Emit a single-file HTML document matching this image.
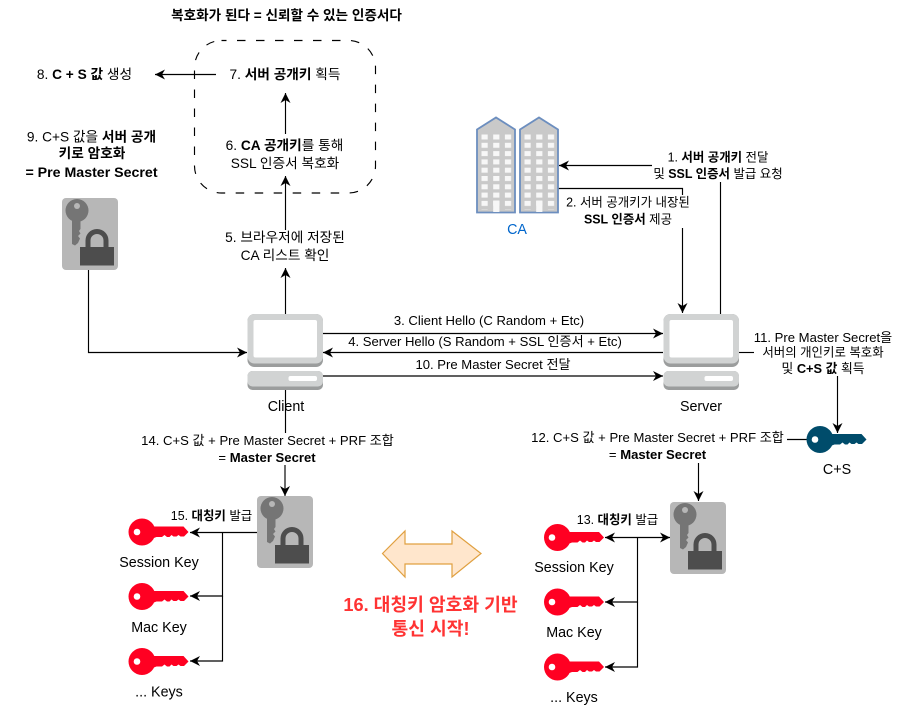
<!DOCTYPE html>
<html><head><meta charset="utf-8"><style>
html,body{margin:0;padding:0;background:#fff}
svg{display:block}
text{font-family:"Liberation Sans","Noto Sans CJK KR",sans-serif;font-size:13.1px;fill:#000;text-anchor:middle}
.b{font-weight:bold}
.l{font-size:14.300px}
.m{font-size:13.700px}
.s{font-size:12.450px}
line,polyline{fill:none;stroke:#000;stroke-width:1.150}
</style></head><body>
<svg width="907" height="726" viewBox="0 0 907 726" xmlns="http://www.w3.org/2000/svg">
<defs>
<marker id="a" markerUnits="userSpaceOnUse" markerWidth="11" markerHeight="11" refX="10" refY="5.500" orient="auto" viewBox="0 0 11 11"><path d="M10 5.500L0 0.500L3 5.500L0 10.500Z" fill="#000"/></marker>
<pattern id="w" patternUnits="userSpaceOnUse" x="4.500" y="17" width="11.700" height="8.300"><rect width="6.200" height="5" fill="#f7f7f7"/></pattern>
<g id="bld"><path d="M0 12L19 0L38 12V95H0Z" fill="#c9c9c9" stroke="#6c8ebf" stroke-width="1.800"/><rect x="4.500" y="17" width="30" height="75" fill="url(#w)"/><rect x="16.200" y="83" width="6.200" height="11.500" fill="#f7f7f7"/></g>
<g id="key"><circle cx="13.500" cy="0" r="13.500"/><path d="M22-5.500H55L60 0L55.500 4.500H52L50 3L48 4.500H45L43 3L41 5H38.500L36 3L33.500 5H28L20 8Z"/></g>
<g id="lock"><rect x="0" y="0" width="56" height="72" rx="4" fill="#b7b7b7"/><circle cx="15" cy="12.500" r="11.500" fill="#757575"/><circle cx="15" cy="8" r="3" fill="#b7b7b7"/><path d="M10 20H18.500V31L17 33L18.500 35.500L16 38L18 40.500L16 45L13 47.500L10 46Z" fill="#757575"/><path d="M26 49V42.500A9 9 0 0 1 44 42.500V49" fill="none" stroke="#4d4d4d" stroke-width="5"/><rect x="18" y="49" width="34" height="18.500" fill="#4d4d4d"/></g>
<g id="pc"><rect x="0" y="0" width="75.500" height="53" rx="7" fill="#9b9d9d"/><rect x="0" y="0" width="75.500" height="49.500" rx="7" fill="#d1d3d3"/><rect x="6" y="6" width="63.500" height="37.500" rx="2" fill="#fff"/><rect x="0" y="57" width="75.500" height="19" rx="5" fill="#9b9d9d"/><rect x="0" y="57" width="75.500" height="15.500" rx="5" fill="#d1d3d3"/><rect x="41" y="62" width="28.500" height="5" rx="2" fill="#fff"/></g>
</defs>

<rect x="194.500" y="40.500" width="181" height="152.500" rx="27" fill="none" stroke="#000" stroke-width="1.150" stroke-dasharray="8.500 10.500" stroke-dashoffset="3.500"/>

<line x1="216" y1="74.500" x2="155" y2="74.500" marker-end="url(#a)"/>
<line x1="285.500" y1="134" x2="285.500" y2="93" marker-end="url(#a)"/>
<line x1="285.500" y1="230" x2="285.500" y2="176" marker-end="url(#a)"/>
<line x1="285.500" y1="314" x2="285.500" y2="268" marker-end="url(#a)"/>
<polyline points="88.500,270 88.500,352.500 247,352.500" marker-end="url(#a)"/>
<line x1="323" y1="333.500" x2="663" y2="333.500" marker-end="url(#a)"/>
<line x1="663" y1="352.500" x2="323" y2="352.500" marker-end="url(#a)"/>
<line x1="323" y1="376" x2="663" y2="376" marker-end="url(#a)"/>
<line x1="285.500" y1="390" x2="285.500" y2="433"/>
<line x1="285" y1="465" x2="285" y2="496" marker-end="url(#a)"/>
<polyline points="720.500,314 720.500,182"/>
<line x1="652" y1="165.500" x2="559" y2="165.500" marker-end="url(#a)"/>
<polyline points="558,188.500 682.500,188.500 682.500,195"/>
<line x1="682.500" y1="228" x2="682.500" y2="313" marker-end="url(#a)"/>
<line x1="739" y1="352.500" x2="754" y2="352.500"/>
<line x1="837.500" y1="376" x2="837.500" y2="433" marker-end="url(#a)"/>
<line x1="787" y1="439.500" x2="808" y2="439.500"/>
<line x1="698.500" y1="463" x2="698.500" y2="501" marker-end="url(#a)"/>
<line x1="257" y1="532.500" x2="190" y2="532.500" marker-end="url(#a)"/>
<polyline points="222.500,532.500 222.500,596 190,596" marker-end="url(#a)"/>
<polyline points="222.500,596 222.500,661 190,661" marker-end="url(#a)"/>
<line x1="637.500" y1="537.500" x2="605" y2="537.500" marker-end="url(#a)"/>
<line x1="637.500" y1="537.500" x2="670" y2="537.500" marker-end="url(#a)"/>
<polyline points="637.500,537.500 637.500,602 605,602" marker-end="url(#a)"/>
<polyline points="637.500,602 637.500,667 605,667" marker-end="url(#a)"/>

<use href="#bld" x="477" y="117.500"/>
<use href="#bld" x="520" y="117.500"/>
<use href="#pc" x="247.500" y="314"/>
<use href="#pc" x="663.500" y="314"/>
<use href="#lock" x="62" y="198"/>
<use href="#lock" x="257" y="496"/>
<use href="#lock" x="670" y="502"/>
<use href="#key" x="128.500" y="532" fill="#ff0022"/>
<use href="#key" x="128.500" y="596.500" fill="#ff0022"/>
<use href="#key" x="128.500" y="661.500" fill="#ff0022"/>
<use href="#key" x="544" y="537.500" fill="#ff0022"/>
<use href="#key" x="544" y="602" fill="#ff0022"/>
<use href="#key" x="544" y="667" fill="#ff0022"/>
<use href="#key" x="806.500" y="439.500" fill="#004c6b"/>
<g fill="#fff"><circle cx="137" cy="532" r="3.300"/><circle cx="137" cy="596.500" r="3.300"/><circle cx="137" cy="661.500" r="3.300"/><circle cx="552" cy="537.500" r="3.300"/><circle cx="552" cy="602" r="3.300"/><circle cx="552" cy="667" r="3.300"/><circle cx="815" cy="439.500" r="3.300"/></g>

<path d="M382.500 553.500L405 531V544H452V531L481 553.500L452 577V564H405V577Z" fill="#ffe6cc" stroke="#e0a040" stroke-width="1.200"/>

<text class="b" x="286.500" y="20" style="font-size:13.600px">복호화가 된다 = 신뢰할 수 있는 인증서다</text>
<text class="m" x="84.500" y="79">8. <tspan class="b">C + S 값</tspan> 생성</text>
<text class="m" x="285" y="79">7. <tspan class="b">서버 공개키</tspan> 획득</text>
<text class="m" x="91.500" y="141.500">9. C+S 값을 <tspan class="b">서버 공개</tspan></text>
<text class="b m" x="92" y="158">키로 암호화</text>
<text class="b" x="91.500" y="177" style="font-size:14.200px">= Pre Master Secret</text>
<text class="m" x="284.500" y="150">6. <tspan class="b">CA 공개키</tspan>를 통해</text>
<text class="m" x="285" y="168">SSL 인증서 복호화</text>
<text class="m" x="285" y="242">5. 브라우저에 저장된</text>
<text class="m" x="285" y="260">CA 리스트 확인</text>
<text class="s" x="718" y="161.500">1. <tspan class="b">서버 공개키</tspan> 전달</text>
<text class="s" x="718" y="178">및 <tspan class="b">SSL 인증서</tspan> 발급 요청</text>
<text class="s" x="628" y="206.500">2. 서버 공개키가 내장된</text>
<text class="s" x="628" y="223.500"><tspan class="b">SSL 인증서</tspan> 제공</text>
<text class="l" x="517" y="234" style="fill:#0066cc">CA</text>
<text x="489" y="325">3. Client Hello (C Random + Etc)</text>
<text x="485" y="346">4. Server Hello (S Random + SSL 인증서 + Etc)</text>
<text x="493" y="369">10. Pre Master Secret 전달</text>
<text x="823" y="342">11. Pre Master Secret을</text>
<text class="s" x="823" y="356.500">서버의 개인키로 복호화</text>
<text x="823" y="373" style="font-size:12.800px">및 <tspan class="b">C+S 값</tspan> 획득</text>
<text class="l" x="286" y="411">Client</text>
<text class="l" x="701" y="411">Server</text>
<text x="267.500" y="445">14. C+S 값 + Pre Master Secret + PRF 조합</text>
<text x="267" y="462">= <tspan class="b">Master Secret</tspan></text>
<text x="657.500" y="442">12. C+S 값 + Pre Master Secret + PRF 조합</text>
<text x="657.500" y="459">= <tspan class="b">Master Secret</tspan></text>
<text class="s" x="211.500" y="520">15. <tspan class="b">대칭키</tspan> 발급</text>
<text class="s" x="617.500" y="524">13. <tspan class="b">대칭키</tspan> 발급</text>
<text class="l" x="159" y="567">Session Key</text>
<text class="l" x="159" y="632">Mac Key</text>
<text class="l" x="159" y="696.500">... Keys</text>
<text class="l" x="574" y="572">Session Key</text>
<text class="l" x="574" y="637">Mac Key</text>
<text class="l" x="574" y="702">... Keys</text>
<text class="l" x="837" y="474">C+S</text>
<text class="b" x="430.500" y="611" style="font-size:18.200px;fill:#ff3333">16. 대칭키 암호화 기반</text>
<text class="b" x="430.500" y="635" style="font-size:18.200px;fill:#ff3333">통신 시작!</text>
</svg>
</body></html>
